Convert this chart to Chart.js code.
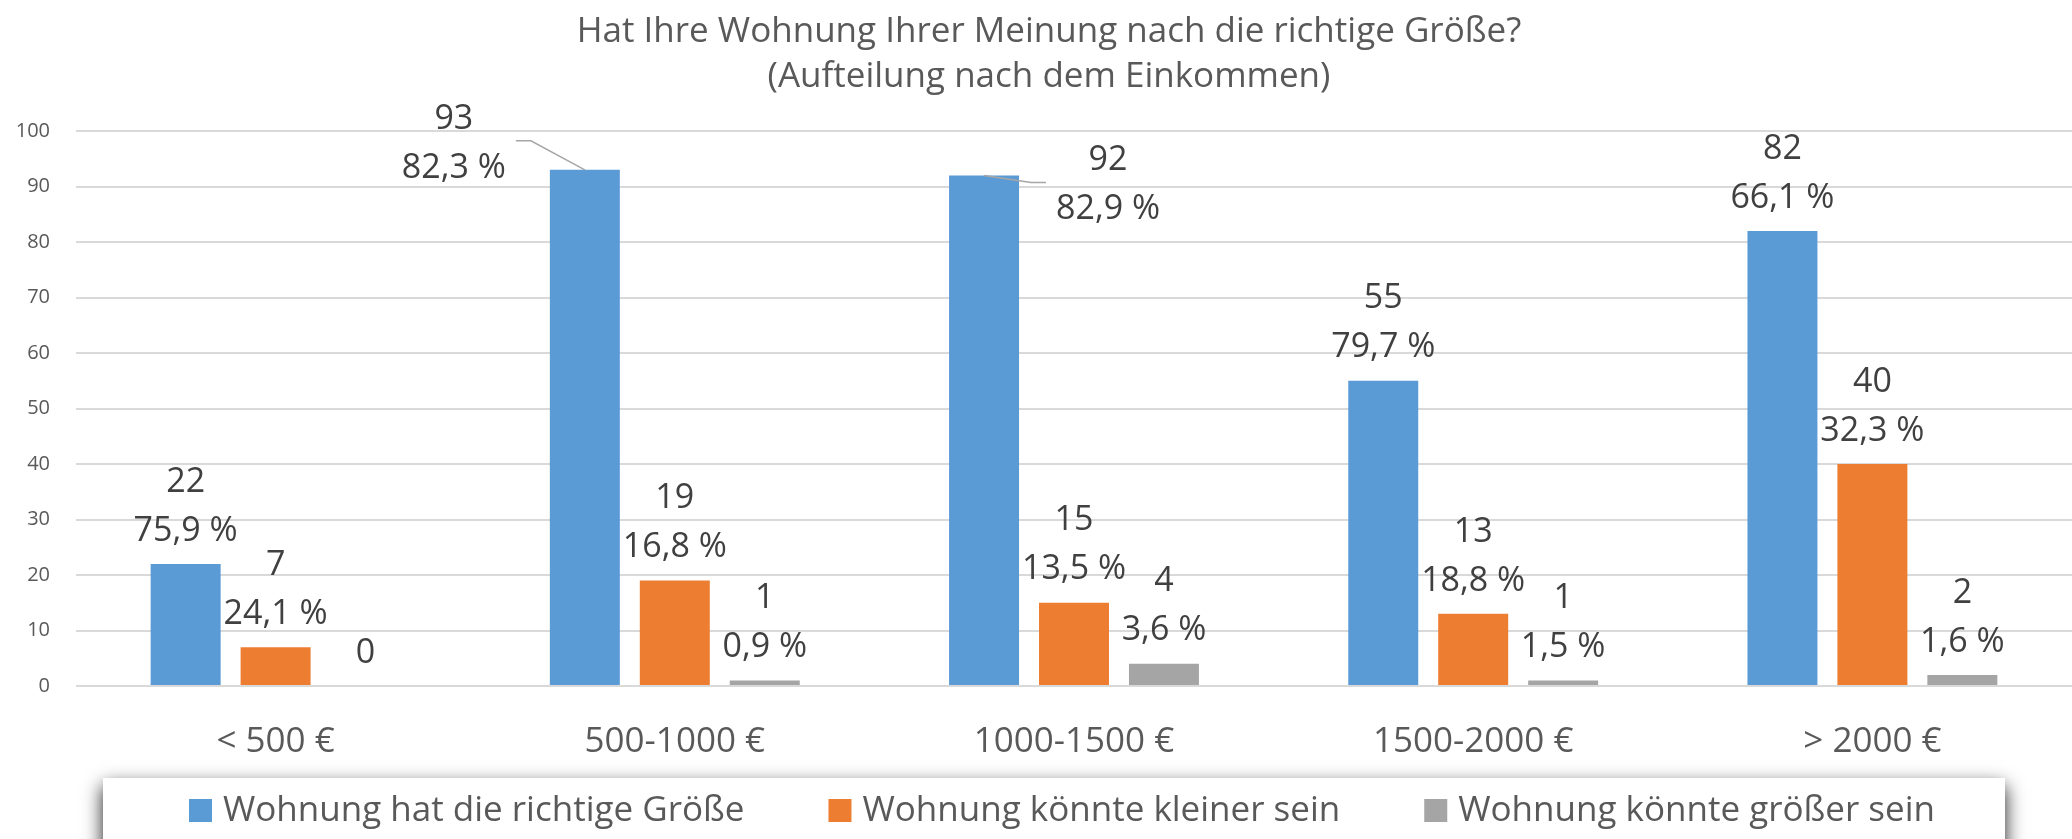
<!DOCTYPE html>
<html lang="de">
<head>
<meta charset="utf-8">
<title>Wohnungsgröße nach Einkommen</title>
<script src="https://cdn.jsdelivr.net/npm/chart.js@4"></script>
<style>
  body { margin: 0; background: #fff; }
  #wrap { width: 2072px; height: 839px; }
</style>
</head>
<body>
<div id="wrap"><canvas id="Wohnung_Groesse" width="2072" height="839"></canvas></div>
<script>
// Daten
var kategorien = ["< 500 €", "500-1000 €", "1000-1500 €", "1500-2000 €", "> 2000 €"];
var titel = ["Hat Ihre Wohnung Ihrer Meinung nach die richtige Größe?", "(Aufteilung nach dem Einkommen)"];

var richtig = [22, 93, 92, 55, 82];
var kleiner = [7, 19, 15, 13, 40];
var groesser = [0, 1, 4, 1, 2];

var richtigProzent = [75.9, 82.3, 82.9, 79.7, 66.1];
var kleinerProzent = [24.1, 16.8, 13.5, 18.8, 32.3];
var groesserProzent = [null, 0.9, 3.6, 1.5, 1.6];

// Beschriftungen, die verschoben sind (mit Führungslinie)
var labelVersatz = {
  "0-1": { dx: -131, dy: 31 },
  "0-2": { dx: 124, dy: 67 },
};

var schrift = "'Open Sans', sans-serif";
Chart.defaults.font.family = schrift;

function formatProzent(p) {
  return p.toFixed(1).replace(".", ",") + " %";
}

// Werte + Prozent über den Balken
var beschriftungPlugin = {
  id: "beschriftung",
  afterDatasetsDraw: function (chart) {
    var ctx = chart.ctx;
    ctx.save();
    ctx.font = "34px " + schrift;
    ctx.fillStyle = "#404040";
    ctx.textAlign = "center";
    ctx.textBaseline = "middle";
    chart.data.datasets.forEach(function (ds, d) {
      var meta = chart.getDatasetMeta(d);
      meta.data.forEach(function (bar, i) {
        var v = labelVersatz[d + "-" + i] || { dx: 0, dy: 0 };
        var x = bar.x + v.dx;
        var y2 = bar.y - 33 + v.dy;
        var p = ds.prozent[i];
        if (p == null) {
          ctx.fillText(String(ds.data[i]), x, y2);
          return;
        }
        var txt = formatProzent(p);
        ctx.fillText(String(ds.data[i]), x, y2 - 49);
        ctx.fillText(txt, x, y2);
        if (v.dx) {
          var w = ctx.measureText(txt).width;
          var seite = v.dx < 0 ? 1 : -1;
          var ex = x + seite * (w / 2 + 10);
          var my = y2 - 27;
          ctx.strokeStyle = "#A6A6A6";
          ctx.lineWidth = 1.5;
          ctx.beginPath();
          ctx.moveTo(bar.x, bar.y);
          ctx.lineTo(ex + seite * 15, my);
          ctx.lineTo(ex, my);
          ctx.stroke();
        }
      });
    });
    ctx.restore();
  },
};

// Legende im Kasten mit Schatten
var legendePlugin = {
  id: "legende",
  afterDraw: function (chart) {
    var ctx = chart.ctx;
    var links = 103, rechts = 2005, oben = 778;
    ctx.save();
    ctx.shadowColor = "rgba(0, 0, 0, 0.9)";
    ctx.shadowBlur = 18;
    ctx.shadowOffsetY = 8;
    ctx.fillStyle = "#fff";
    ctx.fillRect(links, oben, rechts - links, 120);
    ctx.restore();

    ctx.save();
    ctx.font = "35px " + schrift;
    ctx.textBaseline = "middle";
    ctx.textAlign = "left";
    var ds = chart.data.datasets;
    var breiten = [];
    var gesamt = 0;
    for (var i = 0; i < ds.length; i++) {
      breiten.push(ctx.measureText(ds[i].label).width);
      gesamt += 23 + 11 + breiten[i];
    }
    gesamt += 84 * (ds.length - 1);
    var x = (links + rechts) / 2 + 8 - gesamt / 2;
    for (i = 0; i < ds.length; i++) {
      ctx.fillStyle = ds[i].backgroundColor;
      ctx.fillRect(x, 799, 23, 23);
      ctx.fillStyle = "#595959";
      ctx.fillText(ds[i].label, x + 34, 811);
      x += 23 + 11 + breiten[i] + 84;
    }
    ctx.restore();
  },
};

var ctx1 = document.getElementById("Wohnung_Groesse").getContext("2d");
var Wohnung_Groesse = new Chart(ctx1, {
  type: "bar",
  data: {
    labels: kategorien,
    datasets: [
      {
        label: "Wohnung hat die richtige Größe",
        data: richtig,
        prozent: richtigProzent,
        backgroundColor: "#5B9BD5",
      },
      {
        label: "Wohnung könnte kleiner sein",
        data: kleiner,
        prozent: kleinerProzent,
        backgroundColor: "#ED7D31",
      },
      {
        label: "Wohnung könnte größer sein",
        data: groesser,
        prozent: groesserProzent,
        backgroundColor: "#A5A5A5",
      },
    ],
  },
  options: {
    responsive: false,
    animation: false,
    categoryPercentage: 0.676,
    barPercentage: 0.778,
    layout: {
      padding: { left: 12, right: -14, top: 0, bottom: 73 },
    },
    plugins: {
      legend: { display: false },
      tooltip: { enabled: false },
      title: {
        display: true,
        text: titel,
        color: "#595959",
        font: { size: 35, weight: "normal", lineHeight: 1.3 },
        padding: { top: 9, bottom: 31 },
      },
    },
    scales: {
      x: {
        grid: { display: false },
        border: { display: false },
        ticks: {
          color: "#595959",
          font: { size: 35 },
          padding: 27,
        },
        afterFit: function (s) {
          s.height = 80;
        },
      },
      y: {
        min: 0, // Untergrenze
        max: 100, // Obergrenze
        border: { display: false },
        ticks: {
          stepSize: 10,
          color: "#595959",
          font: { size: 20 },
          padding: 26,
        },
        grid: {
          color: "#D9D9D9",
          lineWidth: 2,
          drawTicks: false,
        },
        afterFit: function (s) {
          s.width = 64;
        },
      },
    },
  },
  plugins: [beschriftungPlugin, legendePlugin],
});
</script>
</body>
</html>
